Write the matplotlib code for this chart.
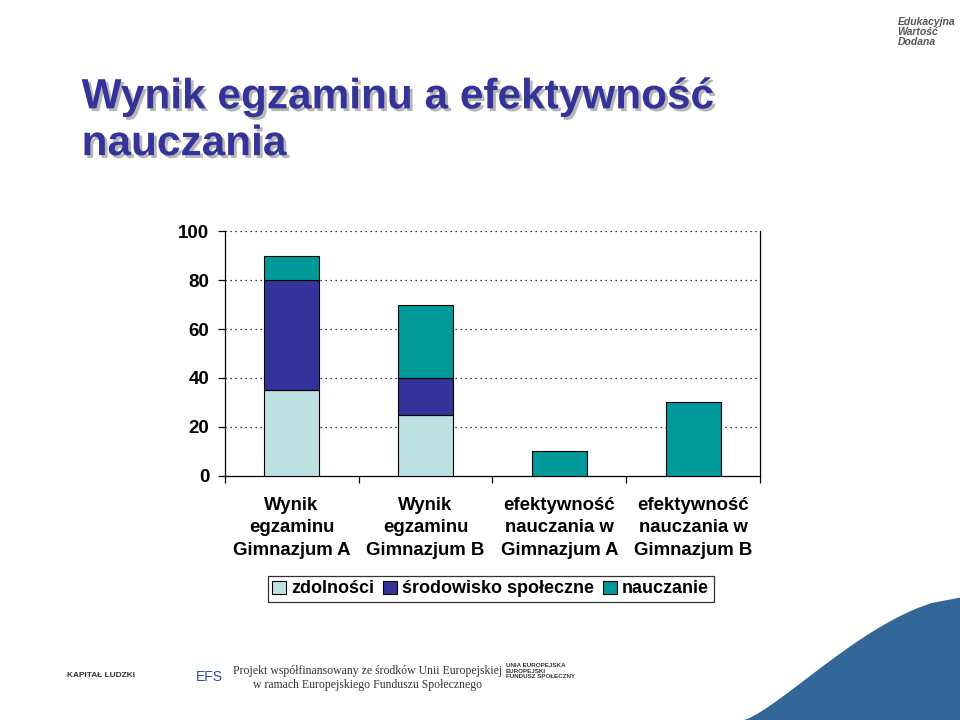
import numpy as np
import matplotlib
matplotlib.use('Agg')
import matplotlib.pyplot as plt
import matplotlib.patheffects as pe
from matplotlib.patches import Polygon

plt.rcParams['font.family'] = ['Liberation Sans', 'DejaVu Sans']

# data
categories = ['Wynik\negzaminu\nGimnazjum A', 'Wynik\negzaminu\nGimnazjum B',
              'efektywność\nnauczania w\nGimnazjum A', 'efektywność\nnauczania w\nGimnazjum B']
series_names = ['zdolności', 'środowisko społeczne', 'nauczanie']
zdolnosci = [35, 25, 0, 0]
srodowisko = [45, 15, 0, 0]
nauczanie = [10, 30, 10, 30]
yticks = [0, 20, 40, 60, 80, 100]

colors = ['#bde0e2', '#333399', '#009999']

fig = plt.figure(figsize=(9.6, 7.2), dpi=100)
ax = fig.add_axes([0.234, 0.339, 0.558, 0.340])

x = np.arange(len(categories))
w = 0.41
bottom = np.zeros(len(categories))
for vals, name, c in zip([zdolnosci, srodowisko, nauczanie], series_names, colors):
    vals = np.array(vals, dtype=float)
    mask = vals > 0
    ax.bar(x[mask], vals[mask], w, bottom=bottom[mask], color=c, edgecolor='black',
           linewidth=0.8, label=name, zorder=3)
    bottom += vals

ax.set_xlim(-0.5, len(categories) - 0.5)
ax.set_ylim(0, 100)
ax.set_yticks(yticks)
ax.set_yticklabels([str(t) for t in yticks], fontsize=13.5, fontweight='bold')
for t in yticks[1:]:
    ax.axhline(t, color='black', linestyle=(0, (1, 3)), linewidth=0.9, zorder=1)

ax.set_xticks(np.arange(len(categories) + 1) - 0.5, minor=True)
ax.set_xticks(x)
ax.set_xticklabels(categories, fontsize=13.4, fontweight='bold', linespacing=1.42)
ax.tick_params(axis='x', which='major', length=0, pad=15)
ax.tick_params(axis='x', which='minor', length=5, direction='out', width=0.9)
ax.tick_params(axis='y', length=5, direction='out', width=0.9, pad=6)
ax.spines['top'].set_visible(False)
for s in ['left', 'bottom', 'right']:
    ax.spines[s].set_linewidth(0.9)

leg = fig.legend(loc='center', bbox_to_anchor=(0.511, 0.182), ncol=3, frameon=True,
                 prop={'size': 13, 'weight': 'bold'}, handlelength=0.75, handleheight=0.75,
                 handletextpad=0.3, columnspacing=0.5, borderpad=0.25, fancybox=False)
leg.get_frame().set_edgecolor('black')
leg.get_frame().set_linewidth(0.9)

# slide title
fig.text(0.085, 0.772, 'Wynik egzaminu a efektywność\nnauczania', fontsize=30.5,
         fontweight='bold', color='#333399', va='bottom', ha='left', linespacing=1.22,
         path_effects=[pe.withSimplePatchShadow(offset=(2, -2), shadow_rgbFace='#999999', alpha=0.7)])

# slide decoration
fig.text(0.935, 0.955, 'Edukacyjna\nWartość\nDodana', fontsize=7.5, style='italic',
         fontweight='bold', color='#555555', va='center', ha='left', linespacing=1.0)
fig.text(0.383, 0.058, 'Projekt współfinansowany ze środków Unii Europejskiej\nw ramach Europejskiego Funduszu Społecznego',
         fontsize=8.5, family='Liberation Serif', ha='center', va='center', color='#333333')
fig.text(0.07, 0.062, 'KAPITAŁ LUDZKI', fontsize=6, fontweight='bold', color='#333333', va='center')
fig.text(0.527, 0.068, 'UNIA EUROPEJSKA\nEUROPEJSKI\nFUNDUSZ SPOŁECZNY', fontsize=4.5, fontweight='bold',
         color='#333333', va='center', ha='left')
fig.text(0.218, 0.06, 'EFS', fontsize=10, color='#2a4f9a', ha='center', va='center')
ttx = np.linspace(0, 1, 30)
curve = [(1.0 - 0.225 * (1 - t) ** 0.6, 0.17 * t ** 1.3) for t in ttx]
poly = Polygon([(1.0, 0.0)] + curve[::-1] + [(0.775, 0.0)], closed=True,
               transform=fig.transFigure, facecolor='#336699', edgecolor='none')
fig.patches.append(poly)

fig.savefig('out.png', dpi=100)
